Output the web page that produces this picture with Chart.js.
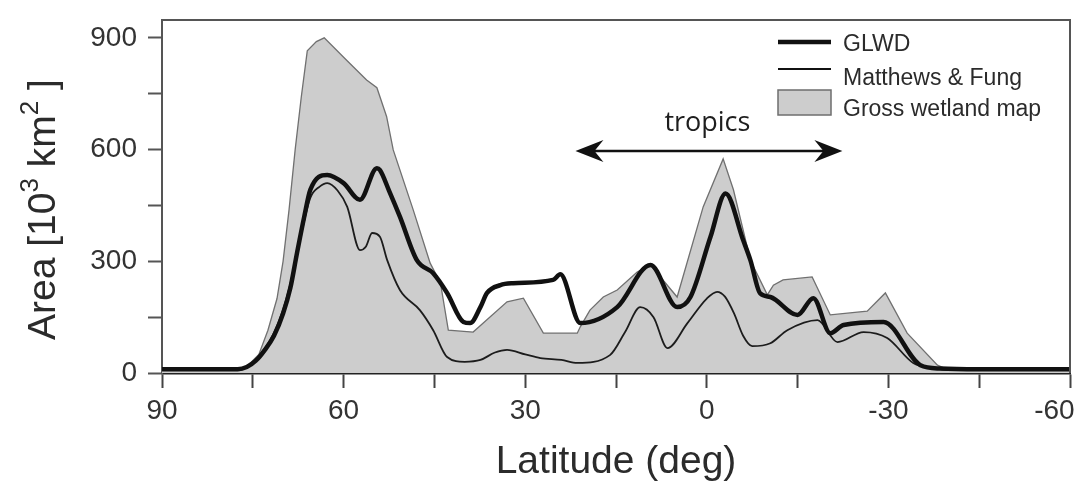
<!DOCTYPE html>
<html>
<head>
<meta charset="utf-8">
<script src="https://cdn.jsdelivr.net/npm/chart.js@4.4.1/dist/chart.umd.min.js"></script>
<style>
html, body { margin: 0; padding: 0; background: #fff; }
#caja { width: 1081px; height: 486px; position: relative; }
</style>
</head>
<body>
<div id="caja"><canvas id="grafico"></canvas></div>
<script>
// ticks
var xTicks = [90, 75, 60, 45, 30, 15, 0, -15, -30, -45, -60];
var xLabels = [90, 60, 30, 0, -30, -60];
var yTicks = [0, 150, 300, 450, 600, 750, 900];
var yLabels = [0, 300, 600, 900];

// GLWD (thick line)
var glwdLat  = [90, 80, 77.5, 76, 74.5, 73, 71.5, 70, 68.8, 67.7, 66.5, 65.5, 62.7, 60, 57.3, 54.5, 54, 52.5, 50.7, 47.9, 45.2, 42.9, 40.2, 39.1, 37.4, 36.3, 34.1, 32, 25.4, 24.2, 20.9, 14.8, 9.3, 4.9, 2.7, -0.6, -3.1, -6, -7.2, -8.8, -10.5, -15, -17.6, -20.4, -22.6, -29.2, -35.3, -38.6, -45, -60];
var glwdArea = [10, 10, 10, 16, 33, 62, 100, 160, 228, 322, 420, 492, 532, 510, 465, 550, 545, 490, 420, 303, 268, 215, 137, 134, 177, 215, 236, 241, 250, 265, 134, 177, 290, 177, 204, 365, 482, 357, 303, 214, 204, 156, 201, 107, 129, 137, 21, 12, 10, 10];

// Matthews & Fung (thin line)
var mfLat  = [90, 80, 77.5, 76, 74.5, 73, 71.5, 70, 68.8, 67.7, 65.5, 64, 62.7, 61, 59.4, 57.3, 56.3, 55.3, 54, 52.8, 50.7, 47.4, 45.2, 42.9, 40, 37.4, 35, 33, 30, 27.5, 24, 21.4, 16, 13.5, 11, 8.8, 6.5, 3.2, 0, -1.7, -3, -4.5, -6, -7.5, -10.5, -13.3, -18.3, -21.6, -25.9, -29.8, -34.1, -37.4, -40, -60];
var mfArea = [8, 8, 8, 15, 35, 66, 108, 170, 240, 320, 470, 500, 510, 490, 446, 330, 340, 376, 366, 303, 223, 169, 115, 43, 30, 35, 55, 62, 50, 40, 35, 27, 48, 110, 177, 150, 67, 134, 200, 218, 205, 160, 100, 72, 80, 115, 142, 83, 110, 94, 27, 13, 8, 8];

// Gross wetland map (grey area)
var grossLat  = [90, 80, 78, 76, 74, 72.5, 71, 70, 69, 68, 67, 66, 64.5, 63.2, 59.5, 56.2, 54.5, 52.9, 51.8, 48.5, 45.7, 44, 42.7, 38.6, 33, 30.3, 27, 21.4, 20.9, 19.3, 17.1, 14.8, 11.5, 9.3, 4.9, 0.6, -2.7, -4.4, -7.2, -10, -11, -12.6, -17.4, -20.4, -26.5, -29.5, -33.1, -38.1, -40, -60];
var grossArea = [10, 10, 10, 17, 50, 115, 200, 300, 440, 600, 740, 865, 890, 900, 840, 787, 766, 689, 599, 438, 295, 242, 115, 110, 191, 201, 107, 107, 124, 169, 204, 223, 271, 290, 204, 446, 575, 492, 303, 210, 236, 250, 258, 156, 166, 215, 107, 21, 8, 8];

function puntos(lats, vals) {
    return lats.map(function(lat, i) { return { x: lat, y: vals[i] }; });
}

var fuente = "'Liberation Sans', Arial, Helvetica, sans-serif";
var colorTexto = '#2b2b2b';

var extras = {
    id: 'extras',
    afterDatasetsDraw: function(chart) {
        var ctx = chart.ctx;
        var area = chart.chartArea;
        var sx = chart.scales.x, sy = chart.scales.y;
        ctx.save();

        // top and right frame
        ctx.strokeStyle = '#555';
        ctx.lineWidth = 2;
        ctx.beginPath();
        ctx.moveTo(area.left, area.top);
        ctx.lineTo(area.right, area.top);
        ctx.lineTo(area.right, area.bottom);
        ctx.stroke();

        // tropics arrow
        var ay = sy.getPixelForValue(596);
        var ax1 = sx.getPixelForValue(21.7);
        var ax2 = sx.getPixelForValue(-22.4);
        ctx.strokeStyle = '#111';
        ctx.fillStyle = '#111';
        ctx.lineWidth = 2.5;
        ctx.beginPath();
        ctx.moveTo(ax1 + 15, ay);
        ctx.lineTo(ax2 - 15, ay);
        ctx.stroke();
        function punta(x, dir) {
            ctx.beginPath();
            ctx.moveTo(x, ay);
            ctx.lineTo(x + dir * 28, ay - 11);
            ctx.lineTo(x + dir * 19, ay);
            ctx.lineTo(x + dir * 28, ay + 11);
            ctx.closePath();
            ctx.fill();
        }
        punta(ax1, 1);
        punta(ax2, -1);

        ctx.font = "27px 'Open Sans', 'Noto Sans', sans-serif";
        ctx.textAlign = 'center';
        ctx.textBaseline = 'alphabetic';
        ctx.fillStyle = '#1e1e1e';
        ctx.fillText('tropics', sx.getPixelForValue(-0.1), sy.getPixelForValue(649));

        // legend
        var lx = 778, lw = 53, tx = 843;
        ctx.strokeStyle = '#111';
        ctx.lineWidth = 4.5;
        ctx.beginPath(); ctx.moveTo(lx, 42); ctx.lineTo(lx + lw, 42); ctx.stroke();
        ctx.lineWidth = 2;
        ctx.beginPath(); ctx.moveTo(lx, 69); ctx.lineTo(lx + lw, 69); ctx.stroke();
        ctx.fillStyle = '#cdcdcd';
        ctx.fillRect(lx, 90, lw, 25);
        ctx.strokeStyle = '#6e6e6e';
        ctx.lineWidth = 1.5;
        ctx.strokeRect(lx, 90, lw, 25);
        ctx.fillStyle = colorTexto;
        ctx.font = '23px ' + fuente;
        ctx.textAlign = 'left';
        ctx.textBaseline = 'alphabetic';
        ctx.fillText('GLWD', tx, 51);
        ctx.fillText('Matthews & Fung', tx, 85);
        ctx.fillText('Gross wetland map', tx, 116);

        // y axis title with superscripts
        ctx.translate(55, 340);
        ctx.rotate(-Math.PI / 2);
        ctx.fillStyle = colorTexto;
        var x = 0;
        var trozos = [
            ['Area [10', 39, 0],
            ['3', 26, -17],
            [' km', 39, 0],
            ['2', 26, -17],
            [' ]', 39, 0]
        ];
        trozos.forEach(function(t) {
            ctx.font = t[1] + 'px ' + fuente;
            ctx.fillText(t[0], x, t[2]);
            x += ctx.measureText(t[0]).width;
        });
        ctx.restore();
    }
};

var ctx = document.getElementById('grafico').getContext('2d');
var grafico = new Chart(ctx, {
    type: 'line',
    data: {
        datasets: [
            {
                label: 'GLWD',
                data: puntos(glwdLat, glwdArea),
                borderColor: '#111',
                borderWidth: 4.5,
                pointRadius: 0,
                fill: false,
                cubicInterpolationMode: 'monotone',
                order: 1
            },
            {
                label: 'Matthews & Fung',
                data: puntos(mfLat, mfArea),
                borderColor: '#1c1c1c',
                borderWidth: 1.8,
                pointRadius: 0,
                fill: false,
                cubicInterpolationMode: 'monotone',
                order: 2
            },
            {
                label: 'Gross wetland map',
                data: puntos(grossLat, grossArea),
                borderColor: '#707070',
                backgroundColor: '#cdcdcd',
                borderWidth: 1.3,
                pointRadius: 0,
                fill: 'origin',
                tension: 0,
                order: 3
            }
        ]
    },
    options: {
        responsive: true,
        maintainAspectRatio: false,
        animation: false,
        devicePixelRatio: 1,
        layout: { padding: { top: 20, right: 11, left: 0, bottom: 0 } },
        plugins: {
            legend: { display: false },
            tooltip: { enabled: false }
        },
        scales: {
            x: {
                type: 'linear',
                min: -60,
                max: 90,
                reverse: true,
                afterBuildTicks: function(s) {
                    s.ticks = xTicks.map(function(v) { return { value: v }; });
                },
                afterFit: function(s) {
                    s.height = 113;
                    s.paddingLeft = 0;
                    s.paddingRight = 0;
                },
                ticks: {
                    autoSkip: false,
                    maxRotation: 0,
                    padding: 6,
                    color: '#333',
                    font: { family: fuente, size: 28 },
                    callback: function(v) {
                        if (xLabels.indexOf(v) < 0) return '';
                        // last label sits inside the canvas, as in the figure
                        return v === -60 ? '-60    ' : String(v);
                    }
                },
                grid: {
                    drawOnChartArea: false,
                    drawTicks: true,
                    tickLength: 15,
                    tickWidth: 2,
                    tickColor: '#444'
                },
                border: { display: true, color: '#222', width: 2.5 },
                title: {
                    display: true,
                    text: 'Latitude (deg)',
                    color: colorTexto,
                    font: { family: fuente, size: 39 },
                    padding: { top: 0, bottom: 0 }
                }
            },
            y: {
                type: 'linear',
                min: 0,
                max: 948,
                afterBuildTicks: function(s) {
                    s.ticks = yTicks.map(function(v) { return { value: v }; });
                },
                afterFit: function(s) {
                    s.width = 162;
                    s.paddingTop = 0;
                    s.paddingBottom = 0;
                },
                ticks: {
                    padding: 11,
                    color: '#333',
                    font: { family: fuente, size: 28 },
                    callback: function(v) { return yLabels.indexOf(v) >= 0 ? String(v) : ''; }
                },
                grid: {
                    drawOnChartArea: false,
                    drawTicks: true,
                    tickLength: 14,
                    tickWidth: 2,
                    tickColor: '#555'
                },
                border: { display: true, color: '#555', width: 2 }
            }
        }
    },
    plugins: [extras]
});
</script>
</body>
</html>
